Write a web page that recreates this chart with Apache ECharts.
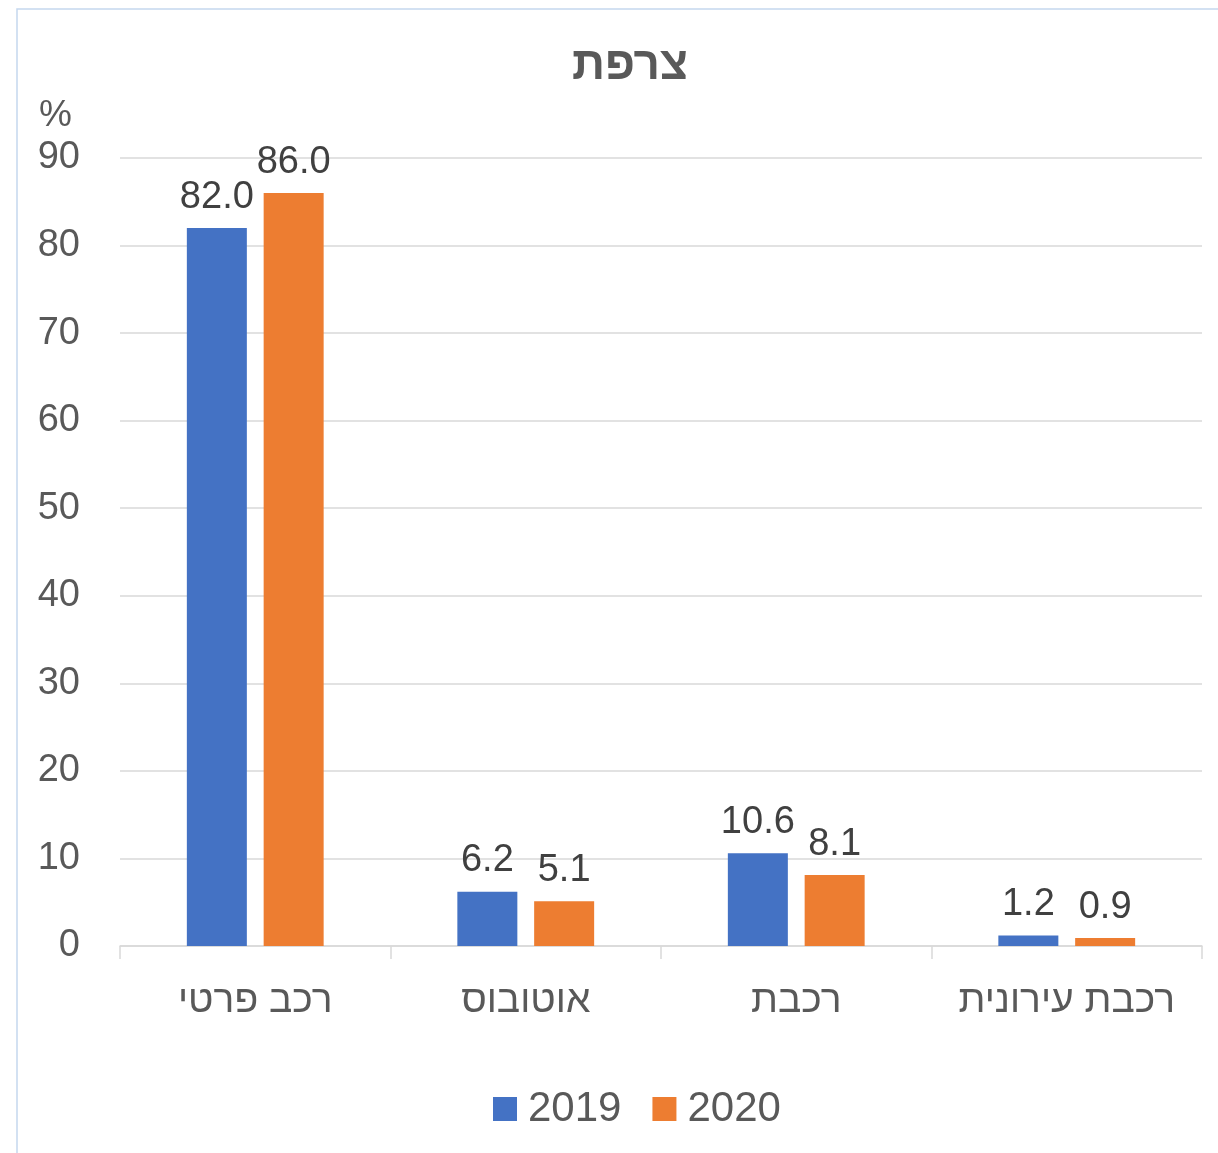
<!DOCTYPE html>
<html>
<head>
    <meta charset="UTF-8">
    <title>צרפת</title>
    <style>
        * {
            margin: 0;
            padding: 0
        }

        #chart {
            width: 1218px;
            height: 1153px;
        }
    </style>
</head>
<body>
<div id="chart"></div>
<script type="text/javascript" src="https://cdn.jsdelivr.net/npm/echarts@6/dist/echarts.min.js"></script>
<script type="text/javascript">
    // נתונים
    var categories = ['רכב פרטי', 'אוטובוס', 'רכבת', 'רכבת עירונית'];
    var years = ['2019', '2020'];
    var values2019 = [82.0, 6.2, 10.6, 1.2];
    var values2020 = [86.0, 5.1, 8.1, 0.9];
    var yTicks = [0, 10, 20, 30, 40, 50, 60, 70, 80, 90];

    var font = "'Liberation Sans', Arial, sans-serif";
    var myChart = echarts.init(document.getElementById('chart'));

    function barSeries(name, data, color) {
        return {
            name: name,
            type: 'bar',
            data: data,
            barWidth: 60,
            barGap: '28%',
            itemStyle: {color: color},
            label: {
                show: true,
                position: 'top',
                distance: 12,
                fontFamily: font,
                fontSize: 38,
                color: '#404040',
                formatter: function (p) {
                    return p.value.toFixed(1);
                }
            }
        };
    }

    var option = {
        backgroundColor: '#fff',
        animation: false,
        title: {
            text: 'צרפת',
            left: 625,
            textAlign: 'center',
            top: 38,
            textStyle: {
                fontFamily: font,
                fontSize: 46,
                fontWeight: 'bold',
                color: '#595959'
            }
        },
        graphic: [{
            type: 'rect',
            shape: {x: 17, y: 9, width: 1240, height: 1200},
            style: {fill: 'none', stroke: '#c5d7ee', lineWidth: 1.5},
            silent: true
        }],
        grid: {
            left: 120,
            right: 16,
            top: 158,
            bottom: 207
        },
        legend: {
            data: years,
            bottom: 18,
            left: 488,
            itemWidth: 24,
            itemHeight: 24,
            itemGap: 31,
            icon: 'rect',
            textStyle: {
                fontFamily: font,
                fontSize: 42,
                color: '#595959',
                padding: [0, 0, 0, 6]
            }
        },
        xAxis: {
            type: 'category',
            data: categories,
            axisLine: {lineStyle: {color: '#d9d9d9', width: 1.5}},
            axisTick: {show: true, interval: 0, length: 13, lineStyle: {color: '#d9d9d9', width: 1.5}},
            axisLabel: {
                interval: 0,
                fontFamily: font,
                fontSize: 39,
                color: '#595959',
                margin: 36
            }
        },
        yAxis: {
            type: 'value',
            min: yTicks[0],
            max: yTicks[yTicks.length - 1],
            interval: 10,
            name: '%',
            nameGap: 24,
            nameTextStyle: {
                fontFamily: font,
                fontSize: 37,
                color: '#595959',
                align: 'right',
                padding: [0, 48, 0, 0]
            },
            axisLine: {show: false},
            axisTick: {show: false},
            axisLabel: {
                fontFamily: font,
                fontSize: 38,
                color: '#595959',
                margin: 40
            },
            splitLine: {lineStyle: {color: '#d9d9d9', width: 1.5}}
        },
        series: [
            barSeries(years[0], values2019, '#4472c4'),
            barSeries(years[1], values2020, '#ed7d31')
        ]
    };

    myChart.setOption(option);
</script>
</body>
</html>
